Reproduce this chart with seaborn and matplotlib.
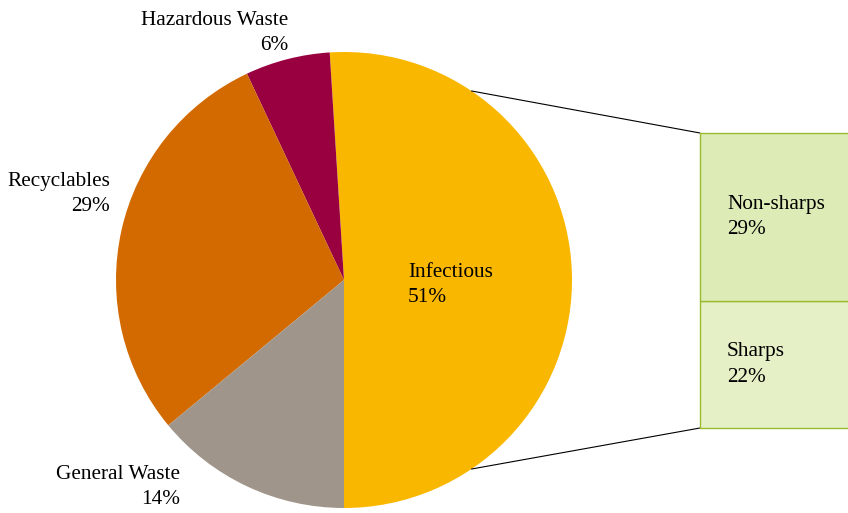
import matplotlib
matplotlib.use("Agg")
import numpy as np
import matplotlib.pyplot as plt
import seaborn as sns

# main pie data (percent)
categories = ["Infectious", "Hazardous Waste", "Recyclables", "General Waste"]
shares = [51, 6, 29, 14]
pie_colors = ["#F9B700", "#990040", "#D36A00", "#A0958B"]

# breakdown of the infectious slice
sub_categories = ["Sharps", "Non-sharps"]
sub_shares = [22, 29]
sub_colors = ["#E5F0C6", "#DDEBB7"]

sns.set_style("white")
plt.rcParams["font.family"] = ["Liberation Serif", "DejaVu Serif"]

W, H = 848, 513
fig = plt.figure(figsize=(W / 100, H / 100), dpi=100)
ax = fig.add_axes([0, 0, 1, 1])

cx, cy, r = 344, H - 280, 228
ax.pie(shares, colors=pie_colors, startangle=-90, counterclock=True,
       center=(cx, cy), radius=r, wedgeprops=dict(linewidth=0), frame=True)
ax.set_xlim(0, W)
ax.set_ylim(0, H)
ax.set_aspect("equal")
ax.axis("off")

# slice labels (right-aligned outside, left-aligned inside)
fs = 15.3
ls = 1.48
label_pos = {
    "Infectious": (408, 285, "left"),
    "Hazardous Waste": (288, 33, "right"),
    "Recyclables": (110, 194, "right"),
    "General Waste": (180, 487, "right"),
}
for name, val in zip(categories, shares):
    x, y, ha = label_pos[name]
    ax.text(x, H - y, f"{name}\n{val}%", ha=ha, va="center", multialignment=ha,
            fontsize=fs, color="black", linespacing=ls)

# stacked bar for the breakdown
bx0, by_top, by_bot = 700, 133, 428
bw = W - bx0 + 20
bax = fig.add_axes([bx0 / W, (H - by_bot) / H, bw / W, (by_bot - by_top) / H])
bax.set_xlim(0, 1)
bax.set_ylim(0, sum(sub_shares))
bax.axis("off")
bottom = 0
for name, val, col in zip(sub_categories, sub_shares, sub_colors):
    bax.bar(0, val, bottom=bottom, width=2, align="edge", color=col,
            edgecolor="#9BBB2E", linewidth=1.0, clip_on=False)
    bax.text(27 / bw, bottom + val / 2, f"{name}\n{val}%",
             ha="left", va="center", fontsize=fs, color="black", linespacing=ls)
    bottom += val

# connector lines from the infectious slice to the bar
ang = np.deg2rad(56)
for sgn, ytgt in [(1, by_top), (-1, by_bot)]:
    px = cx + r * np.cos(ang)
    py = cy + sgn * r * np.sin(ang)
    ax.plot([px, bx0], [py, H - ytgt], color="black", linewidth=0.8)

fig.savefig("out.png", dpi=100)
